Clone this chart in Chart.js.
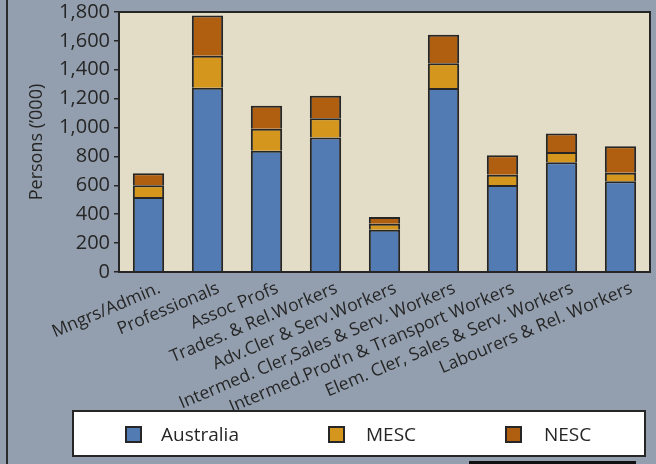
<!DOCTYPE html>
<html>
<head>
<meta charset="utf-8">
<script src="https://cdn.jsdelivr.net/npm/chart.js@4/dist/chart.umd.min.js"></script>
<style>
  html, body { margin: 0; padding: 0; }
  body { width: 656px; height: 464px; background: #939fae; position: relative; overflow: hidden; font-family: "Open Sans", sans-serif; }
  #wrap { position: absolute; left: 0; top: 0; width: 656px; height: 464px; }
  .edge { position: absolute; left: 6px; top: 0; width: 2px; height: 464px; background: #2b2b2b; }
  .foot { position: absolute; left: 469px; top: 461px; width: 167px; height: 3px; background: #111; }
  #legend { position: absolute; left: 72px; top: 410px; width: 570px; height: 43px; background: #fff; border: 2px solid #262626; }
  .swatch { position: absolute; top: 14px; width: 13px; height: 13px; border: 2px solid #262626; }
  .lbl { position: absolute; top: 9px; font-size: 19px; color: #262626; white-space: nowrap; }
</style>
</head>
<body>
<div class="edge"></div>
<div id="wrap"><canvas id="chart" width="656" height="464"></canvas></div>
<div id="legend"></div>
<div class="foot"></div>
<script>
const categories = [
  "Mngrs/Admin.",
  "Professionals",
  "Assoc Profs",
  "Trades. & Rel.Workers",
  "Adv.Cler & Serv.Workers",
  "Intermed. Cler,Sales & Serv. Workers",
  "Intermed.Prod\u2019n & Transport Workers",
  "Elem. Cler, Sales & Serv. Workers",
  "Labourers & Rel. Workers"
];
const australia = [520, 1276, 840, 932, 293, 1274, 602, 759, 628];
const mesc = [81, 221, 152, 132, 41, 171, 72, 72, 59];
const nesc = [82, 278, 159, 157, 47, 198, 134, 127, 183];
const seriesNames = ["Australia", "MESC", "NESC"];
const seriesColors = ["#527bb3", "#d4961c", "#b05e10"];

const ink = "#262626";

// beige plot area and the dark frame round it
const plotFrame = {
  id: "plotFrame",
  beforeDraw(chart) {
    const { ctx, chartArea: a } = chart;
    ctx.save();
    ctx.fillStyle = "#e3dcc6";
    ctx.fillRect(a.left, a.top, a.right - a.left, a.bottom - a.top);
    ctx.restore();
  },
  afterDraw(chart) {
    const { ctx, chartArea: a } = chart;
    ctx.save();
    ctx.strokeStyle = ink;
    ctx.lineWidth = 2;
    ctx.strokeRect(a.left, a.top, a.right - a.left, a.bottom - a.top);
    ctx.restore();
  }
};

const chart = new Chart(document.getElementById("chart"), {
  type: "bar",
  data: {
    labels: categories,
    datasets: [australia, mesc, nesc].map((d, i) => ({
      label: seriesNames[i],
      data: d,
      backgroundColor: seriesColors[i],
      borderColor: ink,
      borderWidth: 2,
      borderSkipped: "start",
      barPercentage: 0.53,
      categoryPercentage: 1
    }))
  },
  options: {
    responsive: false,
    animation: false,
    layout: { padding: { left: 0, right: 6, top: 12, bottom: 0 } },
    plugins: { legend: { display: false }, tooltip: { enabled: false } },
    scales: {
      x: {
        stacked: true,
        grid: { display: false, drawTicks: false },
        border: { display: true, color: ink, width: 2 },
        ticks: {
          color: ink,
          font: { family: "Open Sans", size: 17.5 },
          minRotation: 23,
          maxRotation: 23,
          autoSkip: false,
          labelOffset: 11,
          padding: 6
        },
        afterFit(scale) {
          scale.height = 192;
          scale.paddingLeft = 0;
          scale.paddingRight = 0;
        }
      },
      y: {
        stacked: true,
        min: 0,
        max: 1800,
        grid: { drawOnChartArea: false, drawTicks: true, tickLength: 5, color: ink, lineWidth: 1.5 },
        border: { display: true, color: ink, width: 2 },
        ticks: {
          stepSize: 200,
          color: ink,
          font: { family: "Open Sans", size: 20 },
          padding: 4,
          callback: (v) => v.toLocaleString("en-US")
        },
        title: {
          display: true,
          text: "Persons (\u2019000)",
          color: ink,
          font: { family: "Open Sans", size: 18 },
          padding: { top: 26, bottom: 0 }
        },
        afterFit(scale) {
          scale.width = 119;
          scale.paddingTop = 0;
          scale.paddingBottom = 0;
        }
      }
    }
  },
  plugins: [plotFrame]
});

// legend box built from the datasets
const legendPos = [[51, 87], [254, 292], [431, 470]];
const legend = document.getElementById("legend");
chart.data.datasets.forEach((ds, i) => {
  const sw = document.createElement("div");
  sw.className = "swatch";
  sw.style.left = legendPos[i][0] + "px";
  sw.style.background = ds.backgroundColor;
  const tx = document.createElement("div");
  tx.className = "lbl";
  tx.style.left = legendPos[i][1] + "px";
  tx.textContent = ds.label;
  legend.appendChild(sw);
  legend.appendChild(tx);
});
</script>
</body>
</html>
